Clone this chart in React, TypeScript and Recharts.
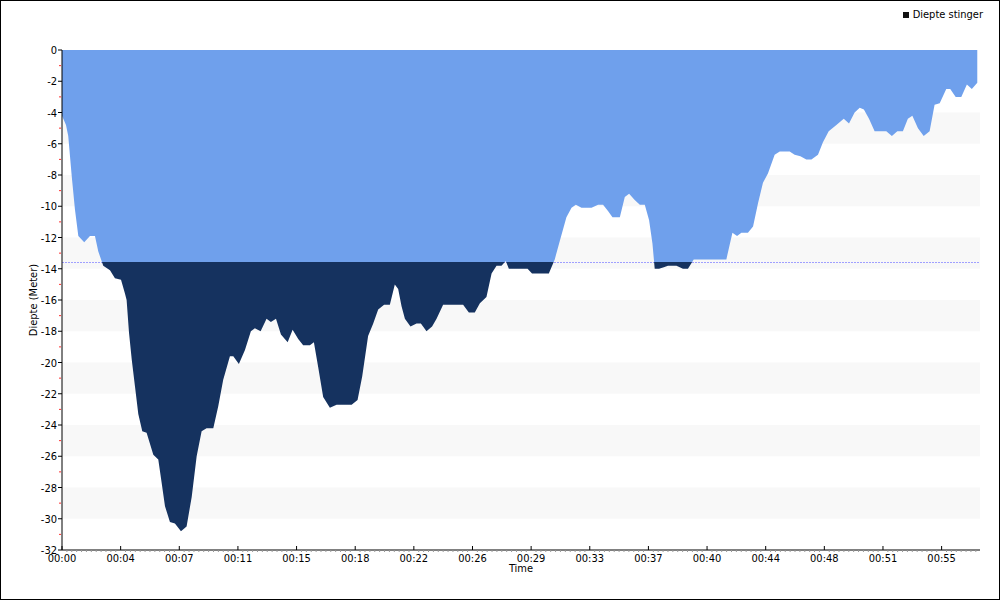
import { AreaChart, Area, XAxis, YAxis, ReferenceArea, ReferenceLine } from "recharts";

// dive profile: time in minutes, depth in meters
const times = [
  0.0, 0.25, 0.39, 0.61, 0.81, 1.02, 1.39, 1.75, 2.06, 2.27, 2.58, 3.0, 3.31, 3.69, 3.94, 4.04,
  4.19, 4.36, 4.56, 4.77, 5.02, 5.29, 5.71, 6.02, 6.23, 6.44, 6.75, 7.06, 7.44, 7.79, 8.11, 8.42,
  8.73, 9.04, 9.46, 9.77, 10.08, 10.5, 10.71, 11.06, 11.44, 11.81, 12.06, 12.42, 12.79, 13.06,
  13.38, 13.69, 14.11, 14.42, 14.77, 15.08, 15.5, 15.75, 16.02, 16.33, 16.75, 17.17, 18.11,
  18.48, 18.77, 19.14, 19.46, 19.77, 20.14, 20.5, 20.81, 21.02, 21.23, 21.44, 21.79, 22.17,
  22.44, 22.79, 23.14, 23.42, 23.83, 25.08, 25.44, 25.81, 26.13, 26.54, 26.86, 27.17, 27.48,
  27.75, 27.94, 29.11, 29.39, 30.44, 30.81, 31.13, 31.54, 31.86, 32.13, 32.48, 33.11, 33.52,
  33.83, 34.14, 34.42, 34.88, 35.19, 35.46, 35.81, 36.13, 36.44, 36.71, 36.92, 37.06, 37.33,
  37.63, 37.89, 38.42, 38.83, 39.14, 39.5, 41.54, 41.92, 42.21, 42.48, 42.89, 43.21, 43.52,
  43.83, 44.14, 44.56, 44.88, 45.5, 45.81, 46.17, 46.54, 46.86, 47.27, 47.58, 47.94, 48.42,
  48.88, 49.21, 49.56, 49.88, 50.14, 50.46, 50.81, 51.54, 51.89, 52.23, 52.58, 52.89, 53.17,
  53.52, 53.88, 54.25, 54.56, 54.88, 55.29, 55.54, 55.88, 56.23, 56.58, 56.89, 57.23,
];
const depths = [
  -4.2, -4.8, -5.5, -8.1, -10.2, -11.9, -12.3, -11.9, -11.9, -12.9, -13.8, -14.1, -14.6, -14.7, -15.6, -16.0,
  -18.1, -19.8, -21.5, -23.3, -24.4, -24.5, -25.9, -26.2, -27.7, -29.2, -30.2, -30.3, -30.8, -30.5, -28.6, -26.0,
  -24.4, -24.2, -24.2, -22.8, -21.1, -19.6, -19.6, -20.1, -19.2, -18.0, -17.8, -18.0, -17.2, -17.4,
  -17.2, -18.2, -18.7, -17.9, -18.5, -18.9, -18.9, -18.7, -20.3, -22.2, -22.9, -22.7, -22.7,
  -22.4, -20.9, -18.3, -17.5, -16.6, -16.3, -16.3, -15.0, -15.3, -16.4, -17.2, -17.7, -17.5,
  -17.5, -18.0, -17.7, -17.2, -16.3, -16.3, -16.8, -16.8, -16.2, -15.8, -14.3, -13.8, -13.8,
  -13.5, -14.0, -14.0, -14.3, -14.3, -13.4, -12.2, -10.7, -10.1, -9.9, -10.1, -10.1, -9.9,
  -9.9, -10.3, -10.7, -10.7, -9.4, -9.2, -9.6, -9.9, -9.9, -10.9, -12.4, -14.0, -14.0,
  -13.9, -13.8, -13.8, -14.0, -14.0, -13.4, -13.4, -11.7, -11.9, -11.7, -11.7, -11.3, -9.8,
  -8.5, -7.9, -6.7, -6.5, -6.5, -6.7, -6.8, -7.0, -7.0, -6.7, -5.9, -5.2, -4.8,
  -4.4, -4.7, -4.0, -3.7, -3.8, -4.4, -5.2, -5.2, -5.5, -5.2, -5.2, -4.4, -4.2,
  -5.0, -5.5, -5.2, -3.5, -3.4, -2.5, -2.5, -3.0, -3.0, -2.2, -2.5, -2.1,
];

const threshold = -13.6;
const bands = [
  [-4, -6], [-8, -10], [-12, -14], [-16, -18], [-20, -22], [-24, -26], [-28, -30],
];
const xTickLabels = [
  "00:00", "00:04", "00:07", "00:11", "00:15", "00:18", "00:22", "00:26",
  "00:29", "00:33", "00:37", "00:40", "00:44", "00:48", "00:51", "00:55",
];
const xMajorStep = 220 / 60; // minutes between labelled ticks
const xMinorPerMajor = 12;
const xEnd = 57.4;

const LIGHT = "#6fa0ec";
const DARK = "#15325f";
const FONT = "'DejaVu Sans Condensed', 'DejaVu Sans', sans-serif";

const data = times.map((t, i) => ({ t, depth: depths[i] }));
const yTicks = Array.from({ length: 33 }, (_, i) => -i);
const xTicks: number[] = [];
for (let k = 0; (k * xMajorStep) / xMinorPerMajor <= xEnd; k++) {
  xTicks.push((k * xMajorStep) / xMinorPerMajor);
}
const split = threshold / Math.min(...depths);

function YTick({ x, y, payload }: any) {
  const v = payload.value as number;
  if (v % 2 !== 0) {
    return <line x1={x - 3} x2={x - 1} y1={y} y2={y} stroke="#ff3030" />;
  }
  return (
    <g>
      <line x1={x - 4} x2={x} y1={y} y2={y} stroke="#000" />
      <text x={x - 5} y={y} dy={4} textAnchor="end" fontSize={11} fill="#000" fontFamily={FONT}>
        {v}
      </text>
    </g>
  );
}

function XTick({ x, y, payload }: any) {
  const k = Math.round((payload.value / xMajorStep) * xMinorPerMajor);
  if (k % xMinorPerMajor !== 0) {
    return <line x1={x} x2={x} y1={y} y2={y + 2} stroke="#999" />;
  }
  return (
    <g>
      <line x1={x} x2={x} y1={y - 4} y2={y} stroke="#000" />
      <text x={x} y={y} dy={12} textAnchor="middle" fontSize={11} fill="#000" fontFamily={FONT}>
        {xTickLabels[k / xMinorPerMajor]}
      </text>
    </g>
  );
}

export default function App() {
  return (
    <div style={{ position: "absolute", left: 0, top: 0, width: 1000, height: 600, background: "#fff" }}>
      <AreaChart
        width={1000}
        height={600}
        data={data}
        margin={{ top: 50, right: 20, bottom: 20, left: 0 }}
        style={{ fontFamily: FONT }}
      >
        <defs>
          <linearGradient id="depthFill" x1="0" y1="0" x2="0" y2="1">
            <stop offset={0} stopColor={LIGHT} />
            <stop offset={split} stopColor={LIGHT} />
            <stop offset={split} stopColor={DARK} />
            <stop offset={1} stopColor={DARK} />
          </linearGradient>
        </defs>
        {bands.map(([a, b], i) => (
          <ReferenceArea key={i} y1={a} y2={b} fill="#f8f8f8" fillOpacity={1} stroke="none" zIndex={-50} />
        ))}
        <ReferenceLine y={threshold} stroke="#a0a0ff" strokeDasharray="2 1" zIndex={-40} />
        <XAxis
          type="number"
          dataKey="t"
          domain={[0, xEnd]}
          ticks={xTicks}
          interval={0}
          height={30}
          tickSize={0}
          tickMargin={0}
          tickLine={false}
          tick={<XTick />}
          stroke="#000"
          label={{ value: "Time", position: "insideBottom", offset: 8, fontSize: 11, fill: "#000" }}
        />
        <YAxis
          type="number"
          domain={[-32, 0]}
          ticks={yTicks}
          interval={0}
          width={62}
          tickSize={0}
          tickMargin={0}
          tickLine={false}
          tick={<YTick />}
          stroke="#000"
          label={{
            value: "Diepte (Meter)",
            angle: -90,
            position: "insideLeft",
            offset: 33,
            fontSize: 11,
            fill: "#000",
            style: { textAnchor: "middle" },
          }}
        />
        <Area
          type="linear"
          dataKey="depth"
          baseValue={0}
          stroke="none"
          fill="url(#depthFill)"
          fillOpacity={1}
          isAnimationActive={false}
          name="Diepte stinger"
        />
      </AreaChart>
      <div
        style={{
          position: "absolute",
          top: 8,
          right: 17,
          display: "flex",
          alignItems: "center",
          fontFamily: FONT,
          fontSize: 11,
          color: "#000",
        }}
      >
        <span style={{ width: 6, height: 6, background: "#111", marginRight: 4, display: "inline-block" }} />
        Diepte stinger
      </div>
      <div
        style={{
          position: "absolute",
          inset: 0,
          border: "1px solid #000",
          pointerEvents: "none",
        }}
      />
    </div>
  );
}
